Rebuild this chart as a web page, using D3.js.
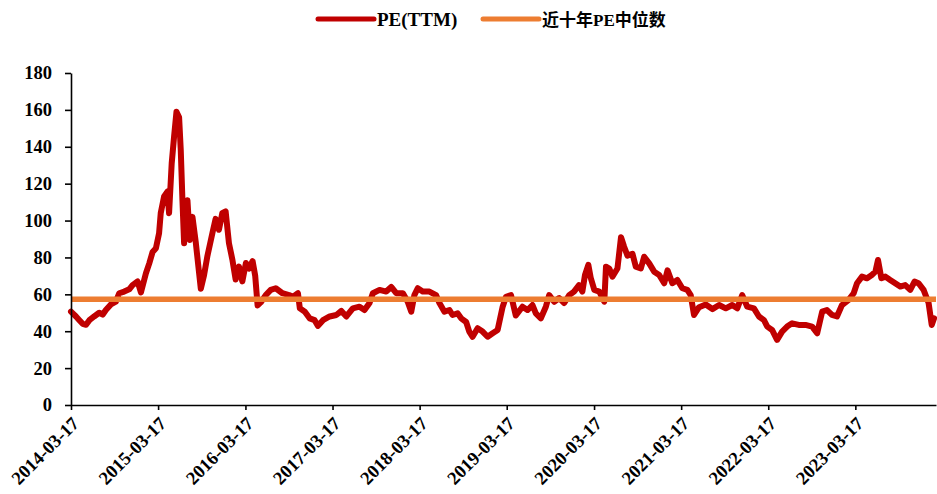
<!DOCTYPE html>
<html>
<head>
<meta charset="utf-8">
<script src="https://cdn.jsdelivr.net/npm/d3@7"></script>
<style>
  body { margin: 0; background: #fff; }
  svg { display: block; }
  .axis text { font-family: "Liberation Serif", "Times New Roman", serif; font-weight: bold; fill: #000; }
  .legend-text { font-family: "Liberation Serif", "Times New Roman", "Noto Sans CJK SC", serif; font-weight: bold; fill: #000; }
</style>
</head>
<body>
<svg id="chart" width="937" height="494"></svg>
<script>
// PE(TTM)
const peDates = [
  "2014-03-17", "2014-04-07", "2014-04-21", "2014-05-05", "2014-05-19", "2014-06-02", "2014-06-22", "2014-07-13",
  "2014-07-28", "2014-08-10", "2014-08-31", "2014-09-21", "2014-10-05", "2014-10-26", "2014-11-16", "2014-11-30",
  "2014-12-21", "2015-01-04", "2015-01-25", "2015-02-08", "2015-02-22", "2015-03-08", "2015-03-21", "2015-03-28",
  "2015-04-11", "2015-04-25", "2015-05-02", "2015-05-13", "2015-05-23", "2015-06-02", "2015-06-13", "2015-06-20",
  "2015-06-27", "2015-07-04", "2015-07-18", "2015-07-28", "2015-08-08", "2015-08-22", "2015-09-05", "2015-09-12",
  "2015-09-25", "2015-10-10", "2015-10-31", "2015-11-13", "2015-11-27", "2015-12-11", "2015-12-25", "2016-01-08",
  "2016-01-22", "2016-02-05", "2016-02-19", "2016-03-04", "2016-03-19", "2016-04-01", "2016-04-16", "2016-04-27",
  "2016-05-07", "2016-05-20", "2016-06-10", "2016-07-01", "2016-07-22", "2016-08-19", "2016-09-16", "2016-10-03",
  "2016-10-23", "2016-10-31", "2016-11-21", "2016-12-11", "2017-01-01", "2017-01-15", "2017-02-05", "2017-03-05",
  "2017-04-02", "2017-04-23", "2017-05-14", "2017-06-10", "2017-07-08", "2017-07-29", "2017-08-19", "2017-09-02",
  "2017-09-30", "2017-10-28", "2017-11-18", "2017-12-09", "2018-01-06", "2018-01-26", "2018-02-10", "2018-02-23",
  "2018-03-09", "2018-03-30", "2018-04-27", "2018-05-25", "2018-06-08", "2018-06-29", "2018-07-20", "2018-08-02",
  "2018-08-23", "2018-09-07", "2018-09-28", "2018-10-11", "2018-10-25", "2018-11-15", "2018-12-06", "2018-12-27",
  "2019-01-17", "2019-02-07", "2019-02-28", "2019-03-14", "2019-04-04", "2019-04-24", "2019-05-22", "2019-06-12",
  "2019-07-03", "2019-07-17", "2019-08-07", "2019-08-28", "2019-09-11", "2019-10-02", "2019-10-23", "2019-11-13",
  "2019-12-04", "2019-12-24", "2020-01-14", "2020-01-28", "2020-02-08", "2020-02-22", "2020-03-03", "2020-03-18",
  "2020-04-08", "2020-04-29", "2020-05-06", "2020-05-20", "2020-06-02", "2020-06-23", "2020-07-08", "2020-07-21",
  "2020-08-04", "2020-08-25", "2020-09-08", "2020-09-29", "2020-10-13", "2020-11-03", "2020-11-24", "2020-12-15",
  "2021-01-05", "2021-01-19", "2021-02-08", "2021-03-01", "2021-03-22", "2021-04-12", "2021-04-26", "2021-05-10",
  "2021-05-31", "2021-06-28", "2021-07-26", "2021-08-23", "2021-09-20", "2021-10-17", "2021-11-07", "2021-11-28",
  "2021-12-19", "2022-01-16", "2022-02-06", "2022-02-27", "2022-03-13", "2022-04-02", "2022-04-23", "2022-05-14",
  "2022-06-04", "2022-06-25", "2022-07-23", "2022-08-20", "2022-09-17", "2022-10-08", "2022-10-29", "2022-11-18",
  "2022-12-09", "2022-12-30", "2023-01-20", "2023-02-17", "2023-03-10", "2023-03-24", "2023-04-14", "2023-05-05",
  "2023-05-25", "2023-06-09", "2023-06-20", "2023-07-04", "2023-07-21", "2023-08-10", "2023-08-31", "2023-09-21",
  "2023-10-12", "2023-11-02", "2023-11-20", "2023-12-07", "2023-12-28", "2024-01-18", "2024-01-31", "2024-02-10"
];
const peValues = [
  50.6, 48, 46, 44, 43.5, 46, 48, 50,
  49, 51.5, 54.5, 56, 60.6, 61.5, 62.7, 65,
  67, 61, 71.4, 76.8, 83, 85, 93, 104,
  113, 115.6, 104, 131, 145.5, 159, 156, 138,
  111, 87.7, 111, 89.5, 102, 88, 71.4, 63,
  70, 81, 93.5, 100.9, 95, 104, 105, 87.7,
  79, 68, 75, 67, 77, 74, 78, 70,
  54, 55.6, 59.6, 62.4, 63.3, 60.6, 59.6, 58.7,
  60.6, 52.4, 50.6, 47, 46, 42.9, 46, 48,
  48.8, 51, 48, 52.4, 53.3, 51.5, 55.3, 60.6,
  62.4, 61.5, 64, 60.6, 60.6, 56, 50.6, 59.6,
  63.3, 61.5, 61.5, 59.6, 55.3, 50.6, 51.5, 48.8,
  49.7, 47, 45, 39.8, 37, 41.6, 39.8, 37,
  38.9, 40.7, 53.3, 58.7, 59.6, 48.5, 53.3, 51.5,
  54.2, 49.7, 47, 53.3, 59.6, 56, 58, 55.3,
  59.6, 61.5, 65, 61.5, 70.5, 76, 69, 62.4,
  61.5, 56, 75, 74, 69.6, 74, 91, 85.8,
  81, 82, 75, 74, 80.4, 76.8, 72.3, 70.5,
  66, 73, 66, 67.8, 63.3, 62.4, 59.6, 48.8,
  53, 54.5, 52, 54.2, 52.4, 54.2, 52.4, 59.6,
  53.3, 52.4, 48, 46, 42.5, 40.7, 35.3, 39.8,
  42.5, 44.3, 43.4, 43.4, 42.5, 38.9, 50.6, 51.5,
  48.8, 48, 54.2, 57, 60.6, 66, 69.6, 68.7,
  70.5, 72.3, 78.6, 68.7, 69.6, 67.8, 66, 64.2,
  65, 62.4, 66.9, 66, 62.4, 55.3, 43.4, 47
];

// ten-year median PE
const medianPE = 57.3;

const yTicks = [0, 20, 40, 60, 80, 100, 120, 140, 160, 180];
const xTickLabels = [
  "2014-03-17", "2015-03-17", "2016-03-17", "2017-03-17", "2018-03-17",
  "2019-03-17", "2020-03-17", "2021-03-17", "2022-03-17", "2023-03-17"
];
const xDomain = ["2014-03-17", "2024-02-18"];

const legendItems = ["PE(TTM)", "近十年PE中位数"];
const seriesColors = ["#C00000", "#ED7D31"];

const parseDate = d3.timeParse("%Y-%m-%d");
const formatDate = d3.timeFormat("%Y-%m-%d");

const svg = d3.select("#chart");

const plot = { left: 71, right: 936, top: 73, bottom: 405 };

const x = d3.scaleTime()
    .domain(xDomain.map(parseDate))
    .range([plot.left, plot.right]);

const y = d3.scaleLinear()
    .domain([0, 180])
    .range([plot.bottom, plot.top]);

const peData = peDates.map((d, i) => ({ date: parseDate(d), value: peValues[i] }));

// PE line
const line = d3.line()
    .x(d => x(d.date))
    .y(d => y(d.value));

svg.append("path")
    .datum(peData)
    .attr("d", line)
    .attr("fill", "none")
    .attr("stroke", seriesColors[0])
    .attr("stroke-width", 6)
    .attr("stroke-linejoin", "round")
    .attr("stroke-linecap", "round");

// median line
svg.append("line")
    .attr("x1", plot.left)
    .attr("x2", plot.right)
    .attr("y1", y(medianPE))
    .attr("y2", y(medianPE))
    .attr("stroke", seriesColors[1])
    .attr("stroke-width", 5.5);

// Y axis
const yAxis = svg.append("g")
    .attr("class", "axis")
    .attr("transform", `translate(${plot.left},0)`)
    .call(d3.axisLeft(y).tickValues(yTicks).tickSize(6).tickSizeOuter(0).tickPadding(13));

yAxis.selectAll("text").style("font-size", "18.5px");

// X axis
const xAxis = svg.append("g")
    .attr("class", "axis")
    .attr("transform", `translate(0,${plot.bottom})`)
    .call(d3.axisBottom(x)
        .tickValues(xTickLabels.map(parseDate))
        .tickFormat(formatDate)
        .tickSize(5)
        .tickSizeOuter(0));

xAxis.selectAll("text")
    .style("font-size", "18.5px")
    .attr("text-anchor", "end")
    .attr("x", 0)
    .attr("y", 0)
    .attr("dy", "0.35em")
    .attr("transform", "translate(4,15) rotate(-45)");

svg.selectAll(".axis path, .axis line")
    .attr("stroke", "#000")
    .attr("stroke-width", 1.6);

// Legend
const legendX = [318, 483];
legendItems.forEach((label, i) => {
    svg.append("line")
        .attr("x1", legendX[i])
        .attr("x2", legendX[i] + 56)
        .attr("y1", 19)
        .attr("y2", 19)
        .attr("stroke", seriesColors[i])
        .attr("stroke-width", 5)
        .attr("stroke-linecap", "round");

    svg.append("text")
        .attr("class", "legend-text")
        .attr("x", legendX[i] + 59)
        .attr("y", 26)
        .style("font-size", i === 0 ? "19px" : "17px")
        .text(label);
});
</script>
</body>
</html>
